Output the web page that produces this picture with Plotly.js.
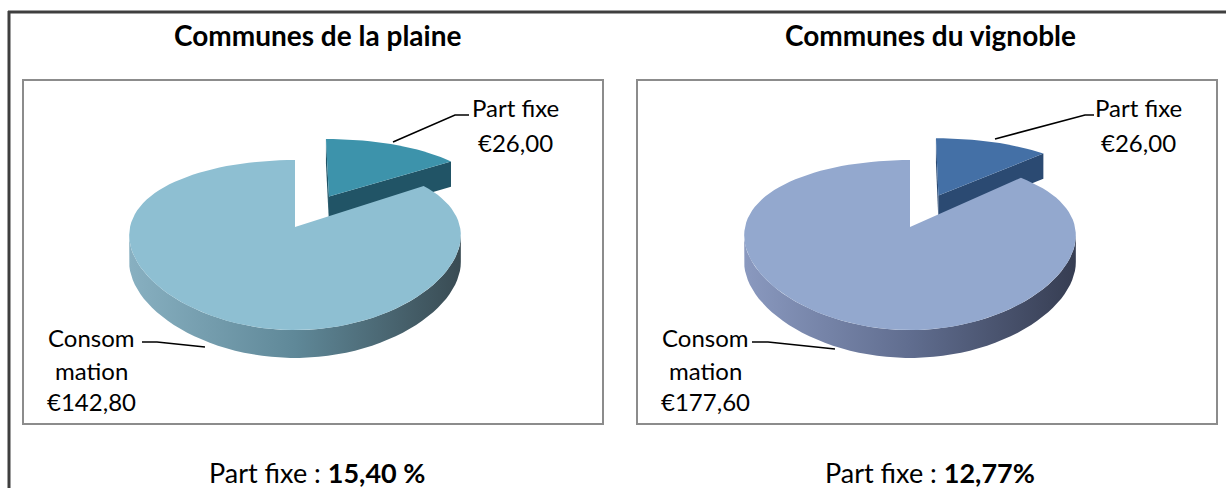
<!DOCTYPE html>
<html><head><meta charset="utf-8">
<script src="https://cdn.plot.ly/plotly-3.0.1.min.js"></script>
<style>html,body{margin:0;padding:0;background:#fff;overflow:hidden}#chart{width:1226px;height:488px}</style>
</head><body><div id="chart"></div>
<script>
// ---- data ----
const panelTitles = ['Communes de la plaine', 'Communes du vignoble'];
const sliceNames = ['Part fixe', 'Consommation'];
const consoLabelLines = ['Consom', 'mation'];
const partFixe = [26.00, 26.00];
const consommation = [142.80, 177.60];
const captionPrefix = 'Part fixe : ';
const captionValues = ['15,40 %', '12,77%'];

// ---- styles / geometry (pixel space) ----
const FONT = 'Lato, "Open Sans", sans-serif';
const panels = [
  {box: [23, 80, 603, 424], cx: 295, titleX: 317,
   top: '#8EBFD2', wallScale: [[0, '#88B0C1'], [0.5, '#5F8898'], [1, '#394B53']],
   pfTop: '#3D93AB', pfFace: '#215466',
   pfLabel: [515, 107, 142], pfLeader: 'M393,142 L455,115 L469,115',
   coLabel: [91, 337, 370, 401], coLeader: 'M142,342 L157,342 L205,347'},
  {box: [637, 80, 1217, 424], cx: 910, titleX: 930,
   top: '#93A8CE', wallScale: [[0, '#8A99BF'], [0.5, '#606D8F'], [1, '#363D52']],
   pfTop: '#4470A6', pfFace: '#2B4A72',
   pfLabel: [1138, 107, 142], pfLeader: 'M995,139 L1085,115 L1094,115',
   coLabel: [705, 337, 370, 401], coLeader: 'M752,342 L768,342 L835,349'}
];
const G = {A: 165, B: 81.2, cy: 227, px: 0.1, py: 0.212, pz: 0.05, Zd: 26.5, explode: 0.46, N: 120};

function proj(P, th, r, z, off) {
  const u = r * Math.sin(th) + off.u, w = r * Math.cos(th) + off.w;
  return [P.cx + G.A * u / (1 + G.px * w),
          G.cy - G.B * w / (1 + G.py * w) + G.Zd * z / (1 + G.pz * w)];
}
function arc(P, t0, t1, z, off) {
  const pts = [], n = Math.max(2, Math.ceil(G.N * Math.abs(t1 - t0) / (2 * Math.PI)));
  for (let i = 0; i <= n; i++) pts.push(proj(P, t0 + (t1 - t0) * i / n, 1, z, off));
  return pts;
}
function poly(pts, color, extra) {
  return Object.assign({
    type: 'scatter', mode: 'lines', x: pts.map(p => p[0]), y: pts.map(p => p[1]),
    fill: 'toself', fillcolor: color, line: {width: 0}, hoverinfo: 'skip', showlegend: false
  }, extra || {});
}

const traces = [], shapes = [], annotations = [];
const fmt = v => '€' + v.toFixed(2).replace('.', ',');
const TAU = 2 * Math.PI;
const silh = Math.acos(-G.px);

panels.forEach((P, i) => {
  const total = partFixe[i] + consommation[i];
  const a1 = TAU * partFixe[i] / total;      // Part fixe: 0 -> a1 (clockwise from 12 o'clock)
  const mid = a1 / 2;
  const offPF = {u: G.explode * Math.sin(mid), w: G.explode * Math.cos(mid)};
  const off0 = {u: 0, w: 0};

  // Part fixe radial faces
  [0, a1].forEach(t => {
    const pts = [proj(P, t, 0, 0, offPF), proj(P, t, 1, 0, offPF), proj(P, t, 1, 1, offPF), proj(P, t, 0, 1, offPF)];
    pts.push(pts[0]);
    traces.push(poly(pts, P.pfFace));
  });
  // Part fixe top
  let pf = [proj(P, 0, 0, 0, offPF)].concat(arc(P, 0, a1, 0, offPF));
  pf.push(pf[0]);
  traces.push(poly(pf, P.pfTop));

  // Consommation wall (visible front part)
  const w0 = Math.max(a1, silh), w1 = TAU - silh;
  const wallPts = arc(P, w0, w1, 0, off0).concat(arc(P, w1, w0, 1, off0));
  wallPts.push(wallPts[0]);
  const xs = wallPts.map(p => p[0]);
  traces.push(poly(wallPts, P.wallScale[1][1], {
    fillgradient: {type: 'horizontal', colorscale: P.wallScale,
      start: Math.min.apply(null, xs), stop: Math.max.apply(null, xs)}
  }));
  // Consommation top
  let co = [proj(P, 0, 0, 0, off0)].concat(arc(P, a1, TAU, 0, off0));
  co.push(co[0]);
  traces.push(poly(co, P.top));

  // frame box
  shapes.push({type: 'rect', xref: 'x', yref: 'y', x0: P.box[0], y0: P.box[1], x1: P.box[2], y1: P.box[3],
    line: {color: '#8C8C8C', width: 2}, fillcolor: 'rgba(0,0,0,0)', layer: 'below'});
  // leaders
  [P.pfLeader, P.coLeader].forEach(d => shapes.push({type: 'path', xref: 'x', yref: 'y', path: d,
    line: {color: '#000', width: 1.5}}));

  const txt = (x, y, t, size, extra) => annotations.push(Object.assign({
    xref: 'x', yref: 'y', x: x, y: y, text: t, showarrow: false, xanchor: 'center', yanchor: 'middle',
    font: {family: FONT, size: size, color: '#000'}}, extra || {}));

  txt(P.titleX, 35, '<b>' + panelTitles[i] + '</b>', 28);
  txt(P.pfLabel[0], P.pfLabel[1], sliceNames[0], 24);
  txt(P.pfLabel[0], P.pfLabel[2], fmt(partFixe[i]), 24);
  txt(P.coLabel[0], P.coLabel[1], consoLabelLines[0], 24);
  txt(P.coLabel[0], P.coLabel[2], consoLabelLines[1], 24);
  txt(P.coLabel[0], P.coLabel[3], fmt(consommation[i]), 24);
  txt(P.titleX, 472, captionPrefix + '<b>' + captionValues[i] + '</b>', 27);
});

// outer frame
shapes.push({type: 'line', xref: 'x', yref: 'y', x0: 8, y0: 12, x1: 1226, y1: 12, line: {color: '#3F3F3F', width: 3}});
shapes.push({type: 'line', xref: 'x', yref: 'y', x0: 9, y0: 11, x1: 9, y1: 488, line: {color: '#3F3F3F', width: 3}});

const layout = {
  width: 1226, height: 488, margin: {l: 0, r: 0, t: 0, b: 0},
  paper_bgcolor: '#fff', plot_bgcolor: '#fff', showlegend: false,
  xaxis: {range: [0, 1226], visible: false, fixedrange: true},
  yaxis: {range: [488, 0], visible: false, fixedrange: true},
  shapes: shapes, annotations: annotations
};
Plotly.newPlot('chart', traces, layout, {staticPlot: true, displayModeBar: false});
</script>
</body></html>
